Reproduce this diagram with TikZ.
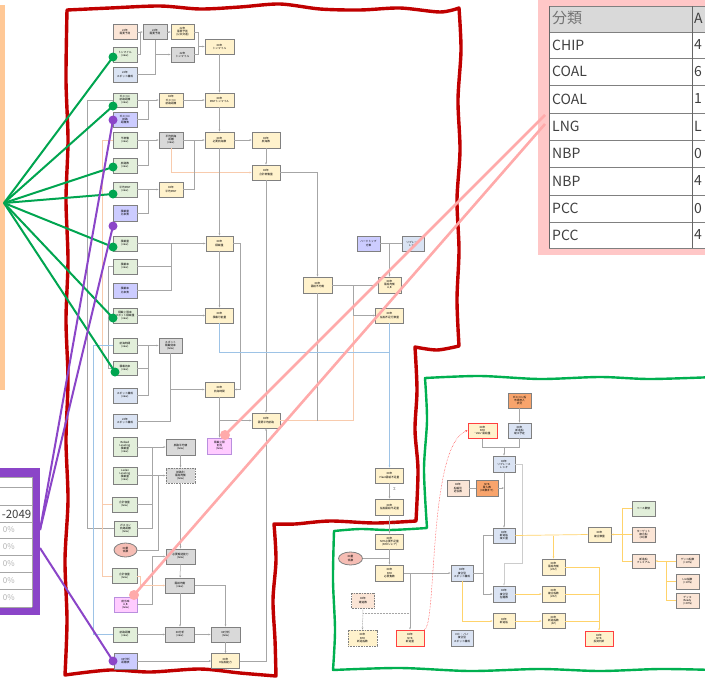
\documentclass[tikz,border=0pt]{standalone}
\usepackage{fontspec}
\setmainfont{Noto Sans CJK JP}
\usetikzlibrary{arrows.meta,shapes.geometric}
\definecolor{cG}{HTML}{E2EFDA}
\definecolor{cY}{HTML}{FFF2CC}
\definecolor{cGr}{HTML}{D9D9D9}
\definecolor{cB}{HTML}{DAE3F3}
\definecolor{cP}{HTML}{CCCCFF}
\definecolor{cPe}{HTML}{FBE5D6}
\definecolor{cO}{HTML}{F8A46C}
\definecolor{cM}{HTML}{FFCCFF}
\definecolor{cE}{HTML}{F6BDB4}
\definecolor{redB}{HTML}{C00000}
\definecolor{grnB}{HTML}{00B050}
\definecolor{grnL}{HTML}{00A550}
\definecolor{purL}{HTML}{8B45C8}
\definecolor{pinkL}{HTML}{FFAAAA}
\definecolor{pinkBox}{HTML}{FFC7C7}
\definecolor{orP}{HTML}{FFC896}
\definecolor{lnG}{HTML}{A6A6A6}
\definecolor{lnO}{HTML}{F8CBAD}
\definecolor{lnY}{HTML}{FFD36B}
\definecolor{lnB}{HTML}{9DC3E6}
\definecolor{txt}{HTML}{404040}
\begin{document}
\begin{tikzpicture}[x=1pt,y=-1pt,
 bx/.style={draw=black!50,line width=0.8pt,inner sep=0pt,minimum height=15pt,minimum width=24pt,align=center,font=\fontsize{2.7}{3.1}\selectfont,text=black},
 wd/.style={minimum width=#1pt},
 ht/.style={minimum height=#1pt},
 el/.style={ellipse,draw=black!50,line width=0.8pt,inner sep=0pt,fill=cE,align=center,font=\fontsize{2.7}{3.1}\selectfont},
 rb/.style={draw=red!75,line width=1pt},
 ds/.style={dash pattern=on 1pt off 0.6pt},
 ln/.style={draw=lnG,line width=0.5pt},
 ar/.style={ln,-{Stealth[length=2.2pt,width=1.8pt]}},
 lo/.style={draw=lnO,line width=0.6pt},
 lor/.style={draw=lnY,line width=0.7pt},
 lb/.style={draw=lnB,line width=0.6pt},
 gline/.style={draw=grnL,line width=2pt},
 pline/.style={draw=purL,line width=2pt},
 kline/.style={draw=pinkL,line width=2.6pt},
 gdot/.style={circle,fill=grnL,minimum size=9pt,inner sep=0pt},
 pdot/.style={circle,fill=purL,minimum size=9pt,inner sep=0pt},
 kdot/.style={circle,fill=pinkL,minimum size=10pt,inner sep=0pt},
 tbl/.style={font=\fontsize{14}{14}\selectfont,text=txt,anchor=west,inner sep=0pt}
]
\useasboundingbox (0,0) rectangle (705,678);
\clip (0,0) rectangle (705,678);
\fill[white] (0,0) rectangle (705,678);

% ---- left orange panel
\fill[orP] (0,5) rectangle (5,390);

% ---- purple table
\fill[purL] (-5,468) rectangle (40,615);
\fill[white] (-5,477) rectangle (32,607);
\foreach \y in {477,487,505,522,538,555,572,589,607} \draw[gray!70,line width=0.6pt] (-5,\y) -- (32,\y);
\draw[gray!70,line width=0.6pt] (32,477) -- (32,607);
\node[anchor=east,inner sep=0pt,font=\fontsize{11.5}{11.5}\selectfont,text=txt] (yr) at (31.5,514) {-2049};
\foreach \y in {530,546.5,563.5,580.5,598} \node[anchor=east,inner sep=0pt,font=\fontsize{8}{8}\selectfont,text=black!30] at (15,\y) {0\%};

% ---- pink table
\fill[pinkBox] (538,0) rectangle (710,255);
\fill[white] (549,6) rectangle (710,248);
\fill[cGr] (549,6) rectangle (710,32);
\foreach \y in {6,32,58,85,113,140,167,195,222,248} \draw[black!50,line width=0.7pt] (549,\y) -- (710,\y);
\draw[black!60,line width=0.9pt] (549,6) -- (549,248);
\draw[black!60,line width=0.7pt] (692,6) -- (692,248);
\node[tbl,font=\fontsize{15}{15}\selectfont,text=black!55] (th) at (552,18) {分類};
\node[tbl] (th2) at (694,18) {A};
\foreach \t/\v/\y in {CHIP/4/45,COAL/6/71.5,COAL/1/99,LNG/L/126.5,NBP/0/153.5,NBP/4/181,PCC/0/208.5,PCC/4/235}{
 \node[tbl] at (552,\y) {\t};
 \node[tbl] at (694,\y) {\v};
}

% ---- red wavy border
\draw[redB,line width=3.4pt,line join=round]
 plot[smooth] coordinates {(67,10) (110,8) (160,6) (200,9) (240,7) (280,4) (320,9) (360,10) (400,8) (440,12) (459,8)}
 -- plot[smooth] coordinates {(459,8) (461,50) (458,100) (460,150) (457,200) (459,250) (457,300) (459,346)}
 -- plot[smooth] coordinates {(459,346) (437,350) (415,347)}
 -- plot[smooth] coordinates {(415,347) (417,390) (415,430) (418,470) (416,521)}
 -- plot[smooth] coordinates {(416,521) (375,523) (330,521) (295,524) (274,524)}
 -- plot[smooth] coordinates {(274,524) (276,560) (273,600) (275,640) (276,676)}
 -- plot[smooth] coordinates {(276,676) (240,673) (200,669) (150,672) (110,670) (65,675)}
 -- plot[smooth] coordinates {(65,675) (67,620) (65,560) (68,500) (66,440) (68,380) (66,320) (68,260) (66,200) (68,140) (66,80) (67,10)}
 -- cycle;

% ---- green wavy border
\draw[grnB,line width=2.4pt,line join=round]
 plot[smooth] coordinates {(715,377) (650,379) (600,377) (540,379) (480,376) (425,378)}
 -- plot[smooth] coordinates {(425,378) (427,420) (424,470) (427,528)}
 -- plot[smooth] coordinates {(427,528) (390,530) (360,529) (334,531)}
 -- plot[smooth] coordinates {(334,531) (333,580) (335,630) (333,670)}
 -- plot[smooth] coordinates {(333,670) (400,668) (470,671) (540,669) (600,671) (660,669) (715,670)};

% ================= nodes (red region)
\node[bx,fill=cPe] (A1) at (125,32) {22年\\需要予測};
\node[bx,fill=cGr] (A2) at (155,32) {22年\\需要予測};
\node[bx,fill=cY,wd=23] (A3) at (182.5,32) {22年\\需要予測\\(公共交通)};
\node[bx,fill=cG] (A4) at (125,54.5) {トンマイル\\(new)};
\node[bx,fill=cGr,wd=23] (A5) at (182.5,54.5) {22年\\トンマイル};
\node[bx,fill=cY,wd=29] (A6) at (219.5,46.5) {XX年\\トンマイル};
\node[bx,fill=cB] (A7) at (125,74.5) {22年\\スポット構成};
\node[bx,fill=cG,ht=14] (B1) at (125,100) {ガスコン\\航路距離\\(new)};
\node[bx,fill=cP] (B2) at (125,119.5) {ガスコン\\航路\\距離表};
\node[bx,fill=cY,ht=14] (B3) at (171,100) {XX年\\ガスコン\\航路距離};
\node[bx,fill=cY,wd=29,ht=14] (B4) at (219.5,100) {XX年\\DWTトンマイル};
\node[bx,fill=cG,ht=16] (C1) at (125,140) {不稼働\\(new)};
\node[bx,fill=cGr,ht=16] (C2) at (171,140) {平均航海\\距離\\(new)};
\node[bx,fill=cY,wd=29,ht=16] (C3) at (219.5,140) {XX年\\必要航海数};
\node[bx,fill=cY,wd=28,ht=16] (C4) at (266,140) {XX年\\航海数};
\node[bx,fill=cY,wd=28] (D4) at (266,172.5) {XX年\\合計稼働量};
\node[bx,fill=cG] (D1) at (125,165.5) {航路数\\(new)};
\node[bx,fill=cG] (D2) at (125,189.5) {平均DWT\\(new)};
\node[bx,fill=cY] (D3) at (171,189.5) {XX年\\平均DWT};
\node[bx,fill=cP,ht=16] (D5) at (125,213) {積載量\\比率表};
\node[bx,fill=cG] (E1) at (125,243.5) {積載量\\(new)};
\node[bx,fill=cY,wd=27] (E2) at (219.5,243.5) {XX年\\積載量};
\node[bx,fill=cG] (F1) at (125,266.5) {積載率\\(new)};
\node[bx,fill=cP] (F2) at (125,290.5) {積載率\\比率表};
\node[bx,fill=cG] (G1) at (125,315.5) {積載上限率\\スポット積載量\\(new)};
\node[bx,fill=cY,wd=28] (G2) at (219.5,315.5) {XX年\\積載可能量};
\node[bx,fill=cY,wd=29,ht=16] (M1) at (317.5,285) {XX年\\需給不均衡};
\node[bx,fill=cY,wd=23,ht=16] (M2) at (389.5,285) {XX年\\需給均衡\\A,B};
\node[bx,fill=cY,wd=28] (M3) at (389.5,315.5) {XX年\\船舶不足行数量};
\node[bx,fill=cP,wd=23] (HT) at (368.5,243.5) {ハードトップ\\方策};
\node[bx,fill=cB,wd=22] (RP) at (413,243.5) {リプレース\\レシオ};
\node[bx,fill=cG] (U1) at (125,345.5) {航海時間\\(new)};
\node[bx,fill=cGr,wd=23] (U2) at (170.5,345.5) {スポット\\積載効率\\(new)};
\node[bx,fill=cG,ht=14] (U3) at (125,368) {積載効率\\(new)};
\node[bx,fill=cB] (U4) at (125,395.5) {スポット構成\\(new)};
\node[bx,fill=cB,ht=14] (U5) at (125,421) {22年\\スポット構成};
\node[bx,fill=cY,wd=29] (H) at (219.5,389.5) {XX年\\航海時間};
\node[bx,fill=cY,wd=28] (N) at (266,420.5) {XX年\\需要平均航路};
\node[bx,fill=cM,ht=16,draw=purL!60] (W) at (219.5,446) {積載上限\\割当\\(new)};
\node[bx,fill=cG,ht=19] (T3) at (125,447) {Refeed\\Leveling\\積載量\\(new)};
\node[bx,fill=cG,ht=17] (T4) at (125,475.5) {Laden\\Leveling\\積載量\\(new)};
\node[bx,fill=cGr,wd=29,ht=16] (T1) at (180.5,447) {航路平均値\\(new)};
\node[bx,fill=cGr,wd=29,ds] (T2) at (180.5,475.5) {航路別\\需給均衡\\(new)};
\node[bx,fill=cG,wd=25] (R1) at (124.5,504.5) {合計容量\\(new)};
\node[bx,fill=cG,wd=23] (R2) at (125.5,528.5) {ガスコン\\航路距離\\(new)};
\node[el,minimum width=23pt,minimum height=14pt] (R3) at (125.5,550) {XX量\\係数};
\node[bx,fill=cG,wd=25] (R4) at (124.5,576) {合計容量\\(new)};
\node[bx,fill=cM,wd=23,draw=purL!60] (R5) at (125.5,604.5) {割当率\\A,B\\(new)};
\node[bx,fill=cG] (R6) at (125,634.5) {航路距離\\(new)};
\node[bx,fill=cP,wd=23,ht=16] (R7) at (125.5,661) {XX分析\\距離表};
\node[bx,fill=cGr,wd=29] (S1) at (180.5,556.5) {必要輸送能力\\(new)};
\node[bx,fill=cGr,wd=29] (S2) at (180,585.5) {需給均衡\\(new)};
\node[bx,fill=cGr,wd=29] (S3) at (180,634.5) {XX分析\\(new)};
\node[bx,fill=cGr,wd=29] (S4) at (225.5,634.5) {XX分析\\(new)};
\node[bx,fill=cY,wd=28] (P2) at (225.5,661) {XX年\\H船舶能力};

% ================= nodes (green region)
\node[bx,fill=cY,wd=28] (Q1) at (389.5,475.5) {XX年\\Fleet需給不足量};
\node[bx,fill=cY,wd=28,ht=16] (Q2) at (389.5,507) {XX年\\船舶需給不足量};
\node[bx,fill=cY,wd=28] (Q3) at (389.5,541.5) {XX年\\NYK必要不足量\\(NYKシェア)};
\node[el,minimum width=24pt,minimum height=13pt] (Q4) at (350.5,558.5) {XX量\\係数};
\node[bx,fill=cY,wd=28,ht=16] (Q5) at (389.5,573) {XX年\\NYK\\必要隻数};
\node[bx,fill=cPe,wd=23,ds] (Q6) at (363,600.5) {XX年\\建造数};
\node[bx,fill=cY,wd=29,ht=16,ds] (Q7) at (362.5,638) {XX年\\NYK\\新造船数};
\node[bx,fill=cY,wd=28,ht=16,rb] (Q8) at (410,638) {XX年\\NYK\\新造量};
\node[bx,fill=cY,wd=29,rb] (Q9) at (482.5,430.5) {XX年\\NYK\\"LNG"需給量};
\node[bx,fill=cO,wd=23] (Z2) at (519.5,400.5) {ガスコン船\\市場参入\\状況};
\node[bx,fill=cB,wd=23] (Z3) at (519.5,430.5) {XX年\\新造船\\竣工予定};
\node[bx,fill=cB,wd=22,ht=16] (Z4) at (504,464) {XX年\\リプレース\\レシオ};
\node[bx,fill=cPe,wd=22,ht=16] (Z5) at (458,488) {XX年\\船齢別\\退役数};
\node[bx,fill=cO,wd=22,ht=16] (Z6) at (487,488) {NYK\\買入数\\(XX数まで)};
\node[bx,fill=cB,wd=22] (Z7) at (504,535.5) {XX年\\新造船\\竣工量};
\node[bx,fill=cB,wd=22,ht=16] (Z1) at (462,573) {XX年\\複合型\\スポット構成};
\node[bx,fill=cB,wd=22,ht=16] (Z8) at (504,594) {XX年\\複合型\\在籍数};
\node[bx,fill=cB,wd=22,ht=16] (Z9) at (462,638) {ロト・パノ\\複合型\\スポット構成};
\node[bx,fill=cY,wd=22] (Z10) at (504,621) {XX年\\新造船};
\node[bx,fill=cY,wd=23] (Y1) at (599.5,534.5) {XX年\\複合数量};
\node[bx,fill=cG,wd=23] (Y2) at (643.5,508.5) {ベース数値};
\node[bx,fill=cPe,wd=23] (Y3) at (643.5,534.5) {ターゲット\\複合船\\(XX)数};
\node[bx,fill=cPe,wd=23,ht=14] (Y4) at (643.5,561) {新造船\\プレミアム};
\node[bx,fill=cPe,wd=23,ht=13] (Y5) at (687.5,561) {ゲッコ船数\\(+10\%)};
\node[bx,fill=cPe,wd=23] (Y6) at (687.5,581.5) {Lnz船数\\(+10\%)};
\node[bx,fill=cPe,wd=23] (Y7) at (687.5,600.5) {ゲッコ\\Ready\\(+20\%)};
\node[bx,fill=cY,wd=23,ht=16] (Y8) at (553.5,567) {XX年\\需給均衡\\(ZZZ)};
\node[bx,fill=cY,wd=23,ht=16] (Y9) at (553.5,594) {XX年\\複合船数\\(ZZZ)};
\node[bx,fill=cY,wd=23] (Y10) at (553.5,621) {XX年\\新造船数\\(ZZ)};
\node[bx,fill=cY,wd=28,rb] (Y11) at (599,638.5) {XX年\\NYK\\投資判断};
\node[font=\fontsize{4}{4}\selectfont,text=black!60,inner sep=0pt] (sig) at (394.5,489) {Σ};
\node[font=\fontsize{4}{4}\selectfont,text=black!60,inner sep=0pt] (dv) at (394.5,524.5) {÷};

% ================= connectors (red region)
\draw[ar] (A1) -- (A2);
\draw[ar] (A2) -- (A3);
\draw[ln] (A4.east) -| (140,32);
\draw[ar] (A2.south) |- (A5.west);
\draw[ln] (A7.east) -| (155,54.5);
\draw[ar] (A3.east) -| (198,46.5) -- (A6.west);
\draw[ln] (A5.east) -| (198,46.5);
\draw[ar] (A6) -- (B4);
\draw[ar] (B1) -- (B3);
\draw[ar] (B3) -- (B4);
\draw[ln] (B2.east) -| (148,100);
\draw[ar] (B4) -- (C3);
\draw[ar] (C1) -- (C2);
\draw[ar] (C2) -- (C3);
\draw[ar] (C3) -- (C4);
\draw[ln] (D1.east) -| (148,140);
\draw[ar] (C4) -- (D4);
\draw[ar,lo] (C2.south) |- (D4.west);
\draw[ar] (D2) -- (D3);
\draw[ln] (D5.east) -| (148,189.5);
\draw[ln] (D3.east) -| (194,140);
\draw[ar] (C3) -- (E2);
\draw[ar] (E1) -- (E2);
\draw[ln] (F1.east) -| (171,243.5);
\draw[ln] (F2.east) -| (171,243.5);
\draw[ar] (E2) -- (G2);
\draw[ar] (G1) -- (G2);
\draw[ar] (E2.east) -| (240,389.5) -- (H.east);
\draw[ln] (B1.west) -- (87,100) |- (R2.west);
\draw[lo] (C1.west) -- (102,140) |- (R4.west);
\draw[lo] (102,504.5) -- (R1.west);
\draw[ln] (F1.west) -- (108,266.5) |- (U3.west);
\draw[lb] (U1.west) -- (93,345.5) |- (R6.west);
\draw[ar] (D4.east) -| (M1.north);
\draw[ar] (D4.south) -- (N.north);
\draw[ln] (HT) -- (RP);
\draw[ar] (389.5,243.5) -- (M2.north);
\draw[ar] (M1) -- (M2);
\draw[ar] (353,285) |- (M3.west);
\draw[lo] (353,315.5) -- (353,420.5) -- (N.east);
\draw[ln] (M1.south) -- (317.5,420.5);
\draw[lb] (G2.south) |- (389.5,352);
\draw[ar,lb] (M3.south) -- (Q1.north);
\draw[ar] (H.south) |- (N.west);
\draw[ar] (H.south) -- (W.north);
\draw[ar] (P2.east) -| (N.south);
\draw[ar] (U1) -- (U2);
\draw[ln] (U3.east) -| (148,345.5);
\draw[ln] (U4.east) -| (148,345.5);
\draw[ar] (U2.south) |- (H.west);
\draw[ln] (U5.east) -| (170.5,389.5);
\draw[ar] (T3.east) -- (T1.west);
\draw[ln] (R1.east) -| (152,447);
\draw[ln] (R2.east) -| (152,447);
\draw[ar] (T4.east) -- (T2.west);
\draw[ln] (R3.east) -| (158,475.5);
\draw[ar] (T1) -- (T2);
\draw[ar] (T2) -- (S1);
\draw[ar] (S1) -- (S2);
\draw[ar] (R5.east) -| (152,556.5) -- (S1.west);
\draw[ar,lo] (R4.east) -- ++(3,0) |- (S2.west);
\draw[ar] (S2.east) -| (S4.north);
\draw[ar] (S2) -- (S3);
\draw[ar] (R6) -- (S3);
\draw[ar] (S3) -- (S4);
\draw[ar] (S4) -- (P2);
\draw[ar] (R7) -- (P2);

% ================= connectors (green region)
\draw[ar] (Q1) -- (Q2);
\draw[ar] (Q2) -- (Q3);
\draw[ar] (Q3) -- (Q5);
\draw[ln] (Q4.east) -- (389.5,558.5);
\draw[ar] (Q5.east) -- (Z1.west);
\draw[ar] (410,573) -- (Q8.north);
\draw[ar,ds] (Q6.south) -- (Q7.north);
\draw[ln,densely dotted] (363,613) -- (410,613);
\draw[draw=red!80,densely dotted,line width=0.5pt,-{Stealth[length=2.2pt,width=1.8pt]}] (Q8.north east) .. controls (437,625) and (428,445) .. (Q9.west);
\draw[ar] (Z2) -- (Z3);
\draw[ln] (Q9.south) |- (519.5,447) -- (Z3.south);
\draw[ar] (504,447) -- (Z4.north);
\draw[ln] (Z5) -- (Z6);
\draw[ar] (Z6.east) -- (504,488);
\draw[ar] (Z4) -- (Z7);
\draw[ln,draw=black!20] (Z4.east) -- (522,464) |- (504,563);
\draw[ar,draw=black!20] (504,563) -- (Z8.north);
\draw[ar] (Z7.west) -| (483,594) -- (Z8.west);
\draw[ln] (Z1.east) -- (483,573);
\draw[ar,lor] (Z1.south) |- (Z10.west);
\draw[lor] (Z7.east) -- (Y1.west);
\draw[ar,lor] (553.5,535.5) -- (Y8.north);
\draw[ar,lor] (Y3.west) -- (Y1.east);
\draw[lor] (Y2.west) -| (622,561) -- (Y4.west);
\draw[lor] (Y5.west) -| (666,600.5) -- (Y7.west);
\draw[lor] (Y6.west) -- (666,581.5);
\draw[ar,lor] (666,561) -- (Y4.east);
\draw[ar,lor] (Y8.east) -| (Y11.north);
\draw[lor] (Y9.east) -- (599,594);
\draw[lor] (Y10.east) -- (599,621);
\draw[ar,lor] (Z8.east) -- (Y9.west);
\draw[ar,lor] (Z10.east) -- (Y10.west);

% ================= overlay annotation lines
\coordinate (gsrc) at (4,203);
\foreach \i/\x/\y in {1/113/57,2/113/106,3/113/167,4/113/194,5/113/247,6/113/318,7/115/372}{
 \coordinate (gc\i) at (\x,\y);
 \draw[gline] (gsrc) -- (gc\i);
}
\foreach \i in {1,...,7} \node[gdot] (g\i) at (gc\i) {};
\coordinate (ps1) at (40,530);
\coordinate (ps2) at (40,548);
\coordinate (pc1) at (113,120);
\coordinate (pc2) at (113,226);
\coordinate (pc3) at (113,661);
\draw[pline] (ps1) -- (pc1);
\draw[pline] (ps1) -- (pc2);
\draw[pline] (ps2) -- (pc3);
\foreach \i in {1,2,3} \node[pdot] (p\i) at (pc\i) {};
\coordinate (ke1) at (545,115);
\coordinate (ke2) at (545,124);
\coordinate (kc1) at (225,435);
\coordinate (kc2) at (134,595);
\draw[kline] (kc1) -- (ke1);
\draw[kline] (kc2) -- (ke2);
\node[kdot] (k1) at (kc1) {};
\node[kdot] (k2) at (kc2) {};
\end{tikzpicture}
\end{document}
